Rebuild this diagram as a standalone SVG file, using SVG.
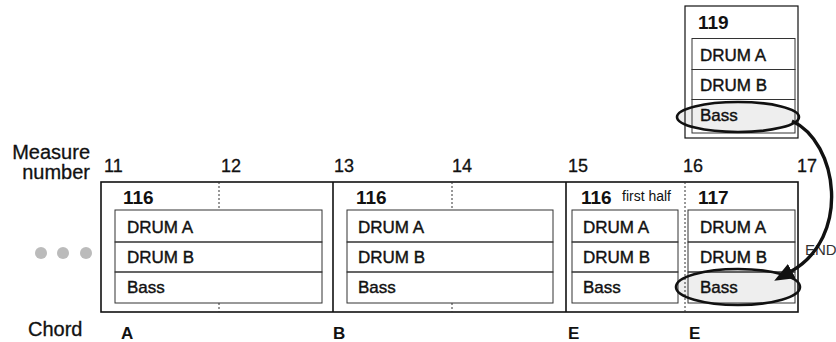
<svg xmlns="http://www.w3.org/2000/svg" width="836" height="342" viewBox="0 0 836 342">
<style>
text{font-family:"Liberation Sans",Arial,sans-serif;fill:#111}
.lbl{font-size:20px;stroke:#111;stroke-width:0.3}
.num{font-size:18px;stroke:#111;stroke-width:0.3}
.cell{font-size:17px;stroke:#111;stroke-width:0.4}
.pat{font-size:19px;font-weight:bold}
.chd{font-size:17px;font-weight:bold}
.frame{fill:none;stroke:#111;stroke-width:1.6}
.box{fill:none;stroke:#333;stroke-width:1}
.dash{stroke:#333;stroke-width:1;stroke-dasharray:2,2}
.ellf{fill:#eeeeee;stroke:none}
.ells{fill:none;stroke:#111;stroke-width:2.6}
</style>
<defs>
<marker id="ah" markerUnits="userSpaceOnUse" viewBox="0 0 20 16" markerWidth="20" markerHeight="16" refX="2" refY="8" orient="auto">
<path d="M0,0 L20,8 L0,16 z" fill="#111"/>
</marker>
</defs>

<g id="labels">
<text class="lbl" x="90" y="159" text-anchor="end">Measure</text>
<text class="lbl" x="90" y="179" text-anchor="end">number</text>
<text class="lbl" x="28" y="336">Chord</text>
<text class="num" x="104" y="172">11</text>
<text class="num" x="221" y="172">12</text>
<text class="num" x="334" y="172">13</text>
<text class="num" x="452" y="172">14</text>
<text class="num" x="568" y="172">15</text>
<text class="num" x="683" y="172">16</text>
<text class="num" x="797" y="172">17</text>
<text class="chd" x="121" y="339">A</text>
<text class="chd" x="333" y="339">B</text>
<text class="chd" x="568" y="339">E</text>
<text class="chd" x="689" y="339">E</text>
<text x="805" y="255" style="font-size:15px;fill:#333">END</text>
</g>

<g id="dots" fill="#bbbbbb">
<circle cx="41" cy="253" r="6"/>
<circle cx="63" cy="253" r="6"/>
<circle cx="86" cy="253" r="6"/>
</g>

<g id="ellipse-fills">
<ellipse class="ellf" cx="738" cy="117" rx="61" ry="15"/>
<ellipse class="ellf" cx="738" cy="287" rx="62" ry="18"/>
</g>

<g id="timeline">
<rect class="frame" x="101" y="182" width="697" height="130"/>
<line class="frame" x1="333" y1="182" x2="333" y2="312"/>
<line class="frame" x1="566" y1="182" x2="566" y2="312"/>
<line class="dash" x1="219" y1="182" x2="219" y2="210"/>
<line class="dash" x1="219" y1="303" x2="219" y2="312"/>
<line class="dash" x1="452" y1="182" x2="452" y2="210"/>
<line class="dash" x1="452" y1="303" x2="452" y2="312"/>
<line class="dash" x1="685" y1="182" x2="685" y2="312"/>
</g>

<g id="pattern-116-a">
<text class="pat" x="123" y="204">116</text>
<rect class="box" x="115" y="210" width="207" height="32"/>
<rect class="box" x="115" y="242" width="207" height="30"/>
<rect class="box" x="115" y="272" width="207" height="31"/>
<text class="cell" x="127" y="233">DRUM A</text>
<text class="cell" x="127" y="263">DRUM B</text>
<text class="cell" x="127" y="293">Bass</text>
</g>

<g id="pattern-116-b">
<text class="pat" x="356" y="204">116</text>
<rect class="box" x="347" y="210" width="206" height="32"/>
<rect class="box" x="347" y="242" width="206" height="30"/>
<rect class="box" x="347" y="272" width="206" height="31"/>
<text class="cell" x="358" y="233">DRUM A</text>
<text class="cell" x="358" y="263">DRUM B</text>
<text class="cell" x="358" y="293">Bass</text>
</g>

<g id="pattern-116-first-half">
<text class="pat" x="581" y="204">116</text>
<text x="622" y="201" style="font-size:14px">first half</text>
<rect class="box" x="572" y="210" width="106" height="32"/>
<rect class="box" x="572" y="242" width="106" height="30"/>
<rect class="box" x="572" y="272" width="106" height="31"/>
<text class="cell" x="583" y="233">DRUM A</text>
<text class="cell" x="583" y="263">DRUM B</text>
<text class="cell" x="583" y="293">Bass</text>
</g>

<g id="pattern-117">
<text class="pat" x="698" y="204">117</text>
<rect class="box" x="688" y="210" width="107" height="32"/>
<rect class="box" x="688" y="242" width="107" height="30"/>
<rect class="box" x="688" y="272" width="107" height="31"/>
<text class="cell" x="700" y="233">DRUM A</text>
<text class="cell" x="700" y="263">DRUM B</text>
<text class="cell" x="700" y="293">Bass</text>
<ellipse class="ells" cx="738" cy="287" rx="62" ry="18"/>
</g>

<g id="pattern-119">
<rect class="frame" x="685" y="6" width="113" height="132" style="stroke-width:1.2"/>
<text class="pat" x="698" y="29">119</text>
<rect class="box" x="692" y="38.5" width="103" height="31"/>
<rect class="box" x="692" y="69.5" width="103" height="30"/>
<rect class="box" x="692" y="99.5" width="103" height="33.5"/>
<text class="cell" x="700" y="61">DRUM A</text>
<text class="cell" x="700" y="91">DRUM B</text>
<text class="cell" x="700" y="121">Bass</text>
<ellipse class="ells" cx="738" cy="117" rx="61" ry="15"/>
</g>

<g id="connectors">
<path d="M792,121 C838,142 852,238 790,272" fill="none" stroke="#111" stroke-width="3.4" marker-end="url(#ah)"/>
</g>
</svg>
